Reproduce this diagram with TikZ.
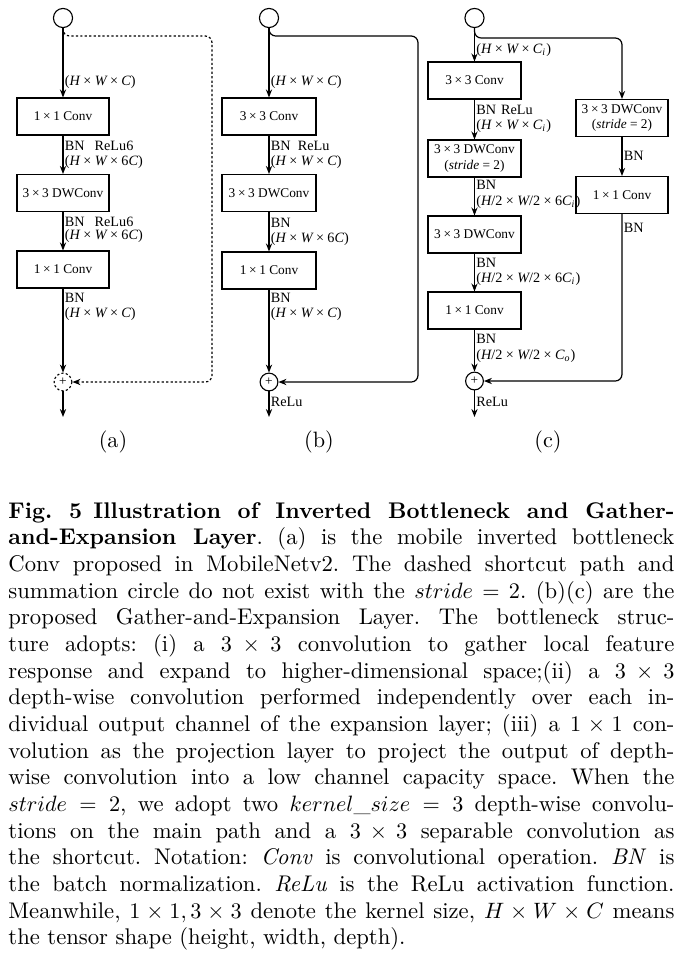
\documentclass[tikz,border=0pt]{standalone}
\usepackage{fontspec}
\newfontfamily\tnr{Liberation Serif}
\usetikzlibrary{arrows.meta,calc}
\newcommand{\X}{\hspace{.2em}×\hspace{.2em}}
\newcommand{\XL}{\hspace{.24em}×\hspace{.24em}}
\newcommand{\iv}[1]{{\itshape #1}}
\newcommand{\Ci}{\iv{C}\textsubscript{\itshape i}}
\newcommand{\Co}{\iv{C}\textsubscript{\itshape o}}
\begin{document}
\begin{tikzpicture}[x=0.45pt,y=-0.45pt,
 box/.style={draw, line width=0.5pt, minimum height=16.65pt, inner sep=0pt, font=\tnr\fontsize{6}{7}\selectfont, align=center},
 lbl/.style={anchor=west, inner sep=0pt, font=\tnr\fontsize{6.4}{7.4}\selectfont},
 arr/.style={-{Stealth[length=3.6pt,width=2.8pt]}, line width=0.55pt},
 incirc/.style={circle, draw, line width=0.5pt, minimum size=8.6pt, inner sep=0pt},
 plusc/.style={circle, draw, line width=0.5pt, minimum size=8pt, inner sep=0pt, font=\tnr\fontsize{6}{6}\selectfont},
 sublbl/.style={font=\fontsize{10}{12}\selectfont, inner sep=0pt},
 dsh/.style={dash pattern=on 1pt off 1pt}
]
\useasboundingbox (0,0) rectangle (682,976);

% ---------- (a) ----------
\node[incirc] (ain) at (63,18) {};
\node[box, minimum width=41.4pt] (a1) at (63,116.5) {1\X1 Conv};
\node[box, minimum width=41.4pt] (a2) at (63,193) {3\X3 DWConv};
\node[box, minimum width=41.4pt] (a3) at (63,269.5) {1\X1 Conv};
\node[plusc, dsh] (aplus) at (63,382) {+};
\coordinate (aout) at (63,417);
\draw[arr] (ain) -- (a1);
\draw[arr] (a1) -- (a2);
\draw[arr] (a2) -- (a3);
\draw[arr] (a3) -- (aplus);
\draw[arr] (aplus) -- (aout);
\draw[arr, dsh, rounded corners=3] (ain.south) |- (212,36) |- (aplus.east);
\node[lbl] (la1) at (64.5,82) {(\iv{H}\XL\iv{W}\XL\iv{C})};
\node[lbl] (la2) at (64.5,146) {BN\hspace{0.7em}ReLu6};
\node[lbl] (la3) at (64.5,162) {(\iv{H}\XL\iv{W}\XL6\iv{C})};
\node[lbl] (la4) at (64.5,222) {BN\hspace{0.7em}ReLu6};
\node[lbl] (la5) at (64.5,236) {(\iv{H}\XL\iv{W}\XL6\iv{C})};
\node[lbl] (la6) at (64.5,298) {BN};
\node[lbl] (la7) at (64.5,314) {(\iv{H}\XL\iv{W}\XL\iv{C})};
\node[sublbl] (suba) at (113,442) {(a)};

% ---------- (b) ----------
\node[incirc] (bin) at (269,18) {};
\node[box, minimum width=42.3pt] (b1) at (269,116.5) {3\X3 Conv};
\node[box, minimum width=42.3pt] (b2) at (269,193) {3\X3 DWConv};
\node[box, minimum width=42.3pt] (b3) at (269,270.5) {1\X1 Conv};
\node[plusc] (bplus) at (269,382) {+};
\coordinate (bout) at (269,417);
\draw[arr] (bin) -- (b1);
\draw[arr] (b1) -- (b2);
\draw[arr] (b2) -- (b3);
\draw[arr] (b3) -- (bplus);
\draw[arr] (bplus) -- (bout);
\draw[arr, rounded corners=3] (bin.south) |- (418,36) |- (bplus.east);
\node[lbl] (lb1) at (270.5,82) {(\iv{H}\XL\iv{W}\XL\iv{C})};
\node[lbl] (lb2) at (270.5,146) {BN\hspace{0.5em}ReLu};
\node[lbl] (lb3) at (270.5,162) {(\iv{H}\XL\iv{W}\XL\iv{C})};
\node[lbl] (lb4) at (270.5,223) {BN};
\node[lbl] (lb5) at (270.5,239) {(\iv{H}\XL\iv{W}\XL6\iv{C})};
\node[lbl] (lb6) at (270.5,298) {BN};
\node[lbl] (lb7) at (270.5,314) {(\iv{H}\XL\iv{W}\XL\iv{C})};
\node[lbl] (lb8) at (270.5,402) {ReLu};
\node[sublbl] (subb) at (319,442) {(b)};

% ---------- (c) ----------
\node[incirc] (cin) at (474.5,18) {};
\node[box, minimum width=41.85pt] (c1) at (474.5,80.5) {3\X3 Conv};
\node[box, minimum width=41.85pt] (c2) at (474.5,158.5) {3\X3 DWConv\\(\iv{stride} = 2)};
\node[box, minimum width=41.85pt] (c3) at (474.5,234.5) {3\X3 DWConv};
\node[box, minimum width=41.85pt] (c4) at (474.5,310.5) {1\X1 Conv};
\node[box, minimum width=41.4pt] (rc1) at (622,118) {3\X3 DWConv\\(\iv{stride} = 2)};
\node[box, minimum width=41.4pt] (rc2) at (622,195) {1\X1 Conv};
\node[plusc] (cplus) at (474.5,381) {+};
\coordinate (cout) at (474.5,417);
\draw[arr] (cin) -- (c1);
\draw[arr] (c1) -- (c2);
\draw[arr] (c2) -- (c3);
\draw[arr] (c3) -- (c4);
\draw[arr] (c4) -- (cplus);
\draw[arr] (cplus) -- (cout);
\draw[arr, rounded corners=3] (cin.south) |- (622,38) -- (rc1.north);
\draw[arr] (rc1) -- (rc2);
\draw[arr, rounded corners=3] (rc2.south) |- (cplus.east);
\node[lbl] (lc1) at (476,50) {(\iv{H}\XL\iv{W}\XL\Ci)};
\node[lbl] (lc2) at (476,110) {BN\hspace{0.35em}ReLu};
\node[lbl] (lc3) at (476,126) {(\iv{H}\XL\iv{W}\XL\Ci)};
\node[lbl] (lc4) at (476,185) {BN};
\node[lbl] (lc5) at (476,202) {(\iv{H}/2\XL\iv{W}/2\XL6\Ci)};
\node[lbl] (lc6) at (476,263) {BN};
\node[lbl] (lc7) at (476,279) {(\iv{H}/2\XL\iv{W}/2\XL6\Ci)};
\node[lbl] (lc8) at (476,339) {BN};
\node[lbl] (lc9) at (476,356) {(\iv{H}/2\XL\iv{W}/2\XL\Co)};
\node[lbl] (lc10) at (476,402) {ReLu};
\node[lbl] (lr1) at (623.5,156) {BN};
\node[lbl] (lr2) at (623.5,228) {BN};
\node[sublbl] (subc) at (548,442) {(c)};

% ---------- caption ----------
\node[anchor=north west, inner sep=0pt, text width=299.7pt, align=justify, font=\fontsize{10.2}{12}\selectfont] (cap) at (8,502) {\noindent\tolerance=9999\frenchspacing
\textbf{Fig.~5\hspace{0.5em}Illustration of Inverted Bottleneck and Gather-\linebreak and-Expansion Layer}. (a) is the mobile inverted bottleneck\linebreak
Conv proposed in MobileNetv2. The dashed shortcut path and\linebreak
summation circle do not exist with the $stride=2$. (b)(c) are the\linebreak
proposed Gather-and-Expansion Layer. The bottleneck struc-\linebreak ture adopts: (i) a $3\times 3$ convolution to gather local feature\linebreak
response and expand to higher-dimensional space;(ii) a $3\times 3$\linebreak
depth-wise convolution performed independently over each in-\linebreak dividual output channel of the expansion layer; (iii) a $1\times 1$ con-\linebreak volution as the projection layer to project the output of depth-\linebreak wise convolution into a low channel capacity space. When the\linebreak
$stride=2$, we adopt two $kernel\_size=3$ depth-wise convolu-\linebreak tions on the main path and a $3\times 3$ separable convolution as\linebreak
the shortcut. Notation: \textit{Conv} is convolutional operation. \textit{BN} is\linebreak
the batch normalization. \textit{ReLu} is the ReLu activation function.\linebreak
Meanwhile, $1\times1, 3\times3$ denote the kernel size, $H\times W\times C$ means\linebreak
the tensor shape (height, width, depth).};
\end{tikzpicture}
\end{document}
